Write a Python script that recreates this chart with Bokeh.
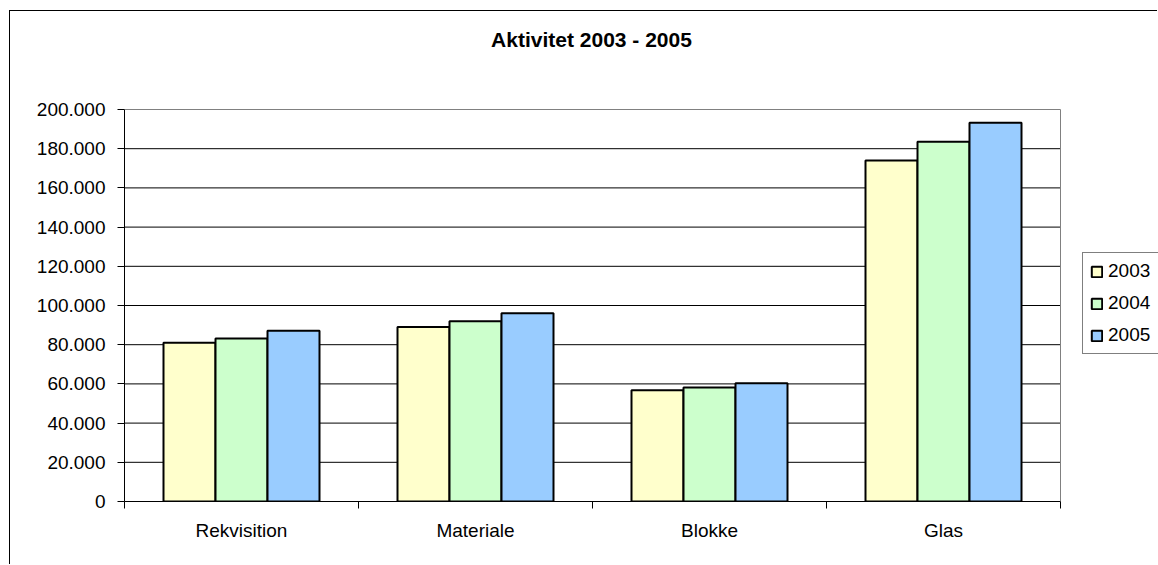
from bokeh.plotting import figure
from bokeh.models import FixedTicker, Legend, LegendItem, Label
from bokeh.embed import file_html
from bokeh.resources import INLINE

categories = ["Rekvisition", "Materiale", "Blokke", "Glas"]
years = ["2003", "2004", "2005"]
v2003 = [81000, 89000, 56800, 174000]
v2004 = [83200, 92000, 58200, 183500]
v2005 = [87100, 96100, 60300, 193200]
series = [v2003, v2004, v2005]
colors = ["#FFFFCC", "#CCFFCC", "#99CCFF"]
y_ticks = [0, 20000, 40000, 60000, 80000, 100000, 120000, 140000, 160000, 180000, 200000]
y_tick_labels = ["0", "20.000", "40.000", "60.000", "80.000", "100.000", "120.000",
                 "140.000", "160.000", "180.000", "200.000"]
title_text = "Aktivitet 2003 - 2005"

FONT = "Liberation Sans"
FS = "19px"
N = len(categories)
Y_MAX = y_ticks[-1]

# frame spans from the plot area's left/bottom to the chart's right/top edge,
# so that the title and legend (drawn in the frame) are not clipped
p = figure(width=1148, height=554, x_range=(0, N * 1034 / 936), y_range=(0, Y_MAX * 490 / 392),
           output_backend="svg", toolbar_location=None,
           min_border_left=114, min_border_right=0, min_border_top=0, min_border_bottom=64)
p.styles = {"margin-left": "9px", "margin-top": "10px",
            "border-left": "1px solid black", "border-top": "1px solid black"}
p.background_fill_color = "white"
p.border_fill_color = "white"
p.outline_line_color = None
p.xgrid.grid_line_color = None
p.ygrid.grid_line_color = None

# horizontal gridlines (plot area only)
grid_vals = y_ticks[1:-1]
p.segment(x0=[0] * len(grid_vals), x1=[N] * len(grid_vals), y0=grid_vals, y1=grid_vals,
          line_color="black", line_width=1)
# plot area border (top and right, gray)
p.segment(x0=[0, N], x1=[N, N], y0=[Y_MAX, 0], y1=[Y_MAX, Y_MAX],
          line_color="#808080", line_width=1)

bw = 52 / 234
renderers = []
for j, vals in enumerate(series):
    xs = [i + 0.5 + (j - 1) * bw for i in range(N)]
    r = p.vbar(x=xs, top=vals, width=bw, fill_color=colors[j], line_color="black", line_width=2)
    renderers.append(r)

# y axis
p.yaxis.bounds = (0, Y_MAX)
p.yaxis.ticker = FixedTicker(ticks=y_ticks)
p.yaxis.major_label_overrides = {t: l for t, l in zip(y_ticks, y_tick_labels)}
p.yaxis.major_tick_out = 7
p.yaxis.major_tick_in = 0
p.yaxis.minor_tick_out = 0
p.yaxis.minor_tick_in = 0
p.yaxis.major_label_standoff = 12
p.yaxis.major_label_text_font = FONT
p.yaxis.major_label_text_font_size = FS
p.yaxis.major_label_text_color = "black"
p.yaxis.axis_line_color = "black"

# x axis
centers = [i + 0.5 for i in range(N)]
bounds = [i for i in range(N + 1)]
p.xaxis.bounds = (0, N)
p.xaxis.ticker = FixedTicker(ticks=centers, minor_ticks=bounds)
p.xaxis.major_label_overrides = {c: n for c, n in zip(centers, categories)}
p.xaxis.major_tick_out = 0
p.xaxis.major_tick_in = 0
p.xaxis.minor_tick_out = 7
p.xaxis.minor_tick_in = 0
p.xaxis.minor_tick_line_color = "black"
p.xaxis.major_label_standoff = 11
p.xaxis.major_label_text_font = FONT
p.xaxis.major_label_text_font_size = FS
p.xaxis.major_label_text_color = "black"
p.xaxis.axis_line_color = "black"

title = Label(x=467, y=462, x_units="screen", y_units="screen", text=title_text,
              text_align="center", text_baseline="middle", text_font=FONT,
              text_font_size="21px", text_font_style="bold", text_color="black")
p.add_layout(title)

legend = Legend(items=[LegendItem(label=y, renderers=[r]) for y, r in zip(years, renderers)],
                location=(958, 147), orientation="vertical",
                border_line_color="black", border_line_width=1,
                background_fill_color="white", background_fill_alpha=1,
                glyph_width=13, glyph_height=13, label_height=22, label_width=60,
                label_standoff=5, spacing=10, padding=7, margin=0,
                label_text_font=FONT, label_text_font_size=FS, label_text_color="black")
p.add_layout(legend, "center")

open("out.html", "w").write(file_html(p, INLINE))
